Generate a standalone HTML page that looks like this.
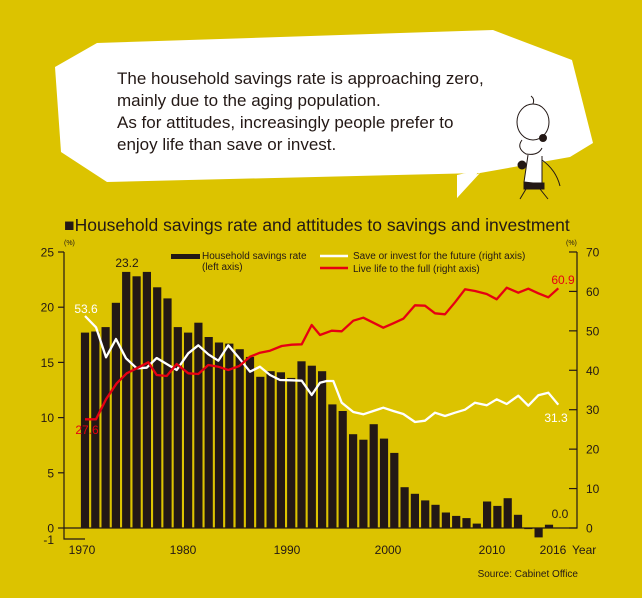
<!DOCTYPE html>
<html><head><meta charset="utf-8"><style>
html,body{margin:0;padding:0;background:#dcc300;}
svg{display:block;font-family:"Liberation Sans",sans-serif;}
</style></head><body>
<svg id="s" width="642" height="598" viewBox="0 0 642 598" xmlns="http://www.w3.org/2000/svg">
<rect width="642" height="598" fill="#dcc300"/>
<polygon points="97,43 493,30 572,60 593,143 570,157 480,173 457,182 457,198 480,173 107,182 61,152 55,67" fill="#fff"/>
<polygon points="457,175 480,170 457,198" fill="#fff"/>
<g font-size="17" fill="#231815">
<text x="117" y="84">The household savings rate is approaching zero,</text>
<text x="117" y="106">mainly due to the aging population.</text>
<text x="117" y="128">As for attitudes, increasingly people prefer to</text>
<text x="117" y="150">enjoy life than save or invest.</text>
</g>
<g fill="none" stroke="#231815" stroke-width="1">
<ellipse cx="533" cy="122" rx="16" ry="18" fill="#fff"/>
<path d="M522 140 q-6 8 4 14 q12 2 16 -6" fill="#fff"/>
<circle cx="543" cy="138" r="3.5" fill="#231815"/>
<path d="M528 155 L524 182 L542 184 L542 156" fill="#fff"/>
<path d="M542 160 q14 10 18 26"/>
<circle cx="522" cy="165" r="4" fill="#231815"/>
<path d="M524 183 l20 0 l0 6 l-20 0z" fill="#231815"/>
<path d="M526 189 l-6 10 M540 189 l8 10"/>
<path d="M533 104 q2 -5 -2 -8"/>
</g>
<text x="64" y="231" font-size="17.5" fill="#231815">■Household savings rate and attitudes to savings and investment</text>
<g id="chart"></g>
</svg>
<script>
var g=document.getElementById('chart'),h='';
var Y0=528,L=11.04,R=39.43/10;
var bars=[17.7,17.8,18.2,20.4,23.2,22.8,23.2,21.8,20.8,18.2,17.7,18.6,17.3,16.8,16.7,16.2,15.5,13.7,14.2,14.1,13.6,15.1,14.7,14.2,11.2,10.6,8.5,8.0,9.4,8.1,6.8,3.7,3.1,2.5,2.1,1.4,1.1,0.9,0.4,2.4,2.0,2.7,1.2,-0.1,-0.85,0.3];
for(var i=0;i<bars.length;i++){var x=85+i*10.31-4.1,v=bars[i];var y=v>=0?Y0-v*L:Y0,hh=Math.abs(v)*L;h+='<rect x="'+x.toFixed(1)+'" y="'+y.toFixed(1)+'" width="8.2" height="'+hh.toFixed(1)+'" fill="#231815"/>';}
function pts(a,b){var s=[];for(var i=0;i<a.length;i+=2)s.push((a[i]/3).toFixed(1)+','+(240+a[i+1]/3).toFixed(1));for(var i=0;i<b.length;i+=2)s.push((320+b[i]/3).toFixed(1)+','+(240+b[i+1]/3).toFixed(1));return s.join(' ');}
var w1=[255,228,288,262,318,352,348,297,378,355,410,385,440,383,470,354,500,372,530,390,565,340,595,316,625,343,655,362,685,316,718,355,750,395,780,380,810,405,840,420,875,421,905,422,935,465];
var w2=[0,428,20,423,40,423,65,488,100,516,130,523,160,513,190,503,220,513,250,522,285,546,315,542,345,518,375,528,405,518,435,509,465,488,500,496,530,478,560,492,595,467,625,497,655,466,685,458,715,494];
var r1=[255,538,288,538,318,478,350,430,380,400,410,385,445,367,470,405,500,408,530,372,565,400,595,402,625,375,655,380,685,390,718,378,750,350,780,338,810,332,845,318,875,314,905,313,935,255];
var r2=[0,285,35,272,65,274,100,242,130,233,160,248,190,263,220,250,250,236,285,196,315,197,345,220,375,223,405,187,435,148,465,153,500,162,530,178,560,143,595,158,625,146,655,160,685,172,715,145];
h+='<polyline points="'+pts(w1,w2)+'" fill="none" stroke="#fff" stroke-width="2.3" stroke-linejoin="round"/>';
h+='<polyline points="'+pts(r1,r2)+'" fill="none" stroke="#e60012" stroke-width="2.3" stroke-linejoin="round"/>';
h+='<g stroke="#231815" stroke-width="1.2" fill="none"><path d="M64 252 V539 H85"/><path d="M64 528 H577 V252"/></g>';
for(var v=0;v<=25;v+=5){var y=Y0-v*L;h+='<line x1="58" x2="64" y1="'+y+'" y2="'+y+'" stroke="#231815" stroke-width="1.2"/><text x="54" y="'+(y+4.5)+'" font-size="12" text-anchor="end" fill="#231815">'+v+'</text>';}
h+='<text x="54" y="544" font-size="12" text-anchor="end" fill="#231815">-1</text>';
for(var v=0;v<=70;v+=10){var y=Y0-v*R;h+='<line x1="569" x2="577" y1="'+y+'" y2="'+y+'" stroke="#231815" stroke-width="1.2"/><text x="586" y="'+(y+4.5)+'" font-size="12" fill="#231815">'+v+'</text>';}
h+='<text x="64" y="245" font-size="7" fill="#231815">(%)</text><text x="566" y="245" font-size="7" fill="#231815">(%)</text>';
var yr=[[1970,82],[1980,183],[1990,287],[2000,388],[2010,492]];
yr.forEach(function(a){h+='<text x="'+a[1]+'" y="554" font-size="12" text-anchor="middle" fill="#231815">'+a[0]+'</text>';});
h+='<text x="553" y="554" font-size="12" text-anchor="middle" fill="#231815">2016</text><text x="572" y="554" font-size="12" fill="#231815">Year</text>';
h+='<text x="578" y="577" font-size="10" text-anchor="end" fill="#231815">Source: Cabinet Office</text>';
h+='<rect x="171" y="254" width="29" height="5" fill="#231815"/><text x="202" y="259" font-size="10" fill="#231815">Household savings rate</text><text x="202" y="270" font-size="10" fill="#231815">(left axis)</text>';
h+='<line x1="320" x2="348" y1="256" y2="256" stroke="#fff" stroke-width="2.5"/><text x="353" y="259" font-size="10" fill="#231815">Save or invest for the future (right axis)</text>';
h+='<line x1="320" x2="348" y1="268" y2="268" stroke="#e60012" stroke-width="2.5"/><text x="353" y="272" font-size="10" fill="#231815">Live life to the full (right axis)</text>';
h+='<text x="127" y="267" font-size="12" text-anchor="middle" fill="#231815">23.2</text>';
h+='<text x="86" y="313" font-size="12" text-anchor="middle" fill="#fff">53.6</text>';
h+='<text x="87" y="434" font-size="12" text-anchor="middle" fill="#e60012">27.6</text>';
h+='<text x="563" y="284" font-size="12" text-anchor="middle" fill="#e60012">60.9</text>';
h+='<text x="556" y="422" font-size="12" text-anchor="middle" fill="#fff">31.3</text>';
h+='<text x="560" y="518" font-size="12" text-anchor="middle" fill="#231815">0.0</text>';
g.innerHTML=h;
</script>
</body></html>
